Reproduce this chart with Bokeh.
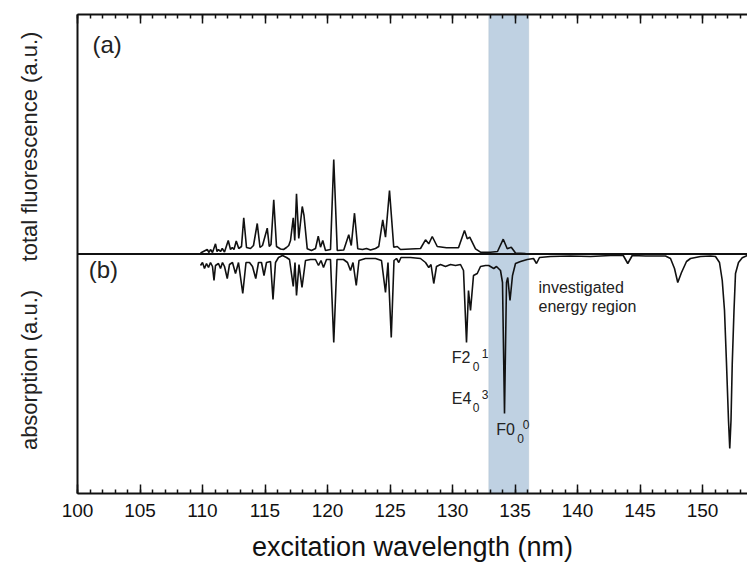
import math
from bokeh.plotting import figure
from bokeh.layouts import row
from bokeh.models import (Range1d, LinearAxis, SingleIntervalTicker, FixedTicker,
                          BoxAnnotation, Label, CustomJSTickFormatter)
from bokeh.core.properties import value
from bokeh.embed import file_html
from bokeh.resources import INLINE

# ---- data (x in nm, y in arbitrary units) ----
fl_nm = [109.84, 110.38, 110.52, 110.64, 110.80, 111.04, 111.16, 111.28, 111.44, 111.58,
         111.76, 112.06, 112.24, 112.38, 112.52, 112.70, 112.90, 113.12, 113.30, 113.52,
         113.84, 114.08, 114.38, 114.60, 114.80, 115.18, 115.34, 115.48, 115.70, 115.92,
         116.24, 116.48, 116.72, 116.90, 117.04, 117.26, 117.38, 117.52, 117.70, 117.98,
         118.12, 118.38, 118.72, 119.04, 119.26, 119.44, 119.62, 119.84, 120.24, 120.50,
         120.78, 121.30, 121.70, 121.90, 122.16, 122.42, 122.80, 123.12, 123.44, 123.84,
         124.10, 124.42, 124.64, 124.96, 125.30, 125.58, 125.84, 126.64, 127.44, 127.84,
         128.10, 128.38, 128.78, 129.52, 130.48, 130.96, 131.18, 131.38, 131.84, 132.24,
         133.04, 133.60, 134.06, 134.38, 134.70, 135.04, 135.84, 136.88]
fl_au = [1.0, 4.5, 1.5, 4.5, 1.5, 10.2, 2.5, 4.5, 2.5, 5.5,
         2.0, 13.5, 4.5, 6.5, 4.5, 13.0, 5.5, 7.5, 36.2, 6.5,
         5.5, 8.5, 30.5, 6.5, 8.5, 25.8, 7.5, 9.5, 54.2, 7.5,
         5.0, 4.5, 6.5, 8.5, 13.5, 36.2, 13.5, 60.2, 15.5, 47.5,
         38.5, 5.2, 3.5, 5.5, 17.8, 6.8, 13.5, 3.5, 4.5, 94.5,
         3.5, 4.0, 19.2, 8.5, 40.8, 5.2, 4.5, 5.5, 4.0, 5.5,
         7.5, 34.2, 16.8, 63.5, 6.8, 7.5, 4.5, 5.0, 5.5, 14.2,
         10.2, 17.5, 7.5, 6.2, 6.2, 23.5, 15.2, 16.8, 5.2, 1.8,
         1.8, 2.5, 14.8, 5.2, 6.8, 1.0, 0.5, 0.0]

ab_nm = [109.84, 110.00, 110.16, 110.32, 110.48, 110.64, 110.80, 110.92, 111.04, 111.28,
         111.44, 111.60, 111.76, 111.98, 112.16, 112.40, 112.64, 112.88, 113.22, 113.48,
         113.76, 114.00, 114.26, 114.48, 114.72, 114.92, 115.12, 115.44, 115.64, 115.84,
         116.08, 116.40, 116.72, 116.96, 117.26, 117.40, 117.52, 117.72, 117.96, 118.24,
         118.64, 119.04, 119.28, 119.48, 119.68, 119.92, 120.24, 120.50, 120.76, 121.28,
         121.60, 121.84, 122.04, 122.30, 122.52, 123.04, 123.84, 124.32, 124.64, 124.84,
         125.10, 125.32, 125.52, 125.70, 125.88, 126.64, 127.44, 127.84, 128.10, 128.28,
         128.50, 128.72, 129.04, 129.44, 129.84, 130.24, 130.64, 130.88, 131.12, 131.28,
         131.44, 131.68, 131.98, 132.24, 132.64, 132.90, 133.30, 133.52, 133.84, 134.00,
         134.16, 134.32, 134.42, 134.60, 134.80, 135.04, 135.44, 135.98, 136.48, 136.72,
         136.96, 137.84, 139.44, 141.04, 142.64, 143.66, 144.02, 144.38, 145.44, 147.04,
         147.44, 147.76, 148.02, 148.32, 148.72, 149.04, 149.84, 150.64, 151.04, 151.36,
         151.58, 151.76, 151.92, 152.08, 152.18, 152.28, 152.38, 152.52, 152.64, 152.88,
         153.18, 153.60]
ab_au = [-11.5, -8.5, -14.5, -9.5, -13.5, -8.5, -12.5, -26.5, -11.5, -9.5,
         -14.5, -8.5, -12.5, -24.5, -10.5, -8.5, -19.5, -8.5, -39.5, -8.5,
         -8.5, -12.5, -24.5, -8.5, -8.5, -21.5, -8.5, -7.5, -45.5, -8.5,
         -3.5, -1.5, -3.5, -5.5, -32.5, -8.5, -41.5, -10.5, -33.5, -6.5,
         -5.5, -5.5, -11.5, -6.5, -13.5, -5.5, -5.5, -88.5, -5.5, -5.5,
         -8.5, -16.5, -8.5, -31.5, -6.5, -4.5, -4.5, -6.5, -38.5, -8.5,
         -83.5, -6.5, -4.5, -8.5, -3.5, -3.5, -4.5, -8.5, -13.5, -10.5,
         -29.5, -12.5, -10.5, -12.5, -10.5, -11.5, -10.5, -16.5, -88.5, -36.5,
         -56.5, -21.5, -19.5, -12.5, -11.5, -11.5, -14.5, -12.5, -16.5, -28.5,
         -159.5, -28.5, -23.5, -46.5, -21.5, -9.5, -7.5, -5.5, -4.5, -9.5,
         -3.5, -2.5, -2.0, -2.5, -1.5, -1.5, -9.5, -1.5, -2.0, -2.0,
         -4.5, -14.5, -28.5, -18.5, -7.5, -4.5, -2.5, -2.0, -2.5, -8.5,
         -26.5, -56.5, -109.5, -166.5, -194.5, -166.5, -109.5, -56.5, -19.5, -8.5,
         -3.8, -1.5]

zero_nm = [100.0, 153.6]
zero_au = [0.0, 0.0]

band_nm = [132.9, 136.1]
y_titles = ["total fluorescence (a.u.)", "absorption (a.u.)"]
y_title_pos = [107.5, -116.0]

FONT = "Liberation Sans"
INK = "#111111"
TXT = "#222222"
Y_RANGE = (-239.5, 239.5)

# ---- left strip holding the two vertical axis titles ----
side = figure(width=60, height=568, x_range=Range1d(0, 60), y_range=Range1d(*Y_RANGE),
              output_backend="svg", toolbar_location=None,
              min_border_left=0, min_border_right=0, min_border_top=14, min_border_bottom=75)
side.axis.visible = False
side.grid.visible = False
side.outline_line_color = None
side.text(x=[29, 29], y=y_title_pos, text=y_titles, angle=math.pi / 2,
          text_align="center", text_baseline="middle", text_font=value(FONT),
          text_font_size="22px", text_color=TXT)

# ---- main plot ----
p = figure(width=687, height=568, x_range=Range1d(100, 153.6), y_range=Range1d(*Y_RANGE),
           output_backend="svg", toolbar_location=None,
           min_border_left=17, min_border_right=0, min_border_top=14, min_border_bottom=75)
p.grid.visible = False
p.outline_line_color = None
p.background_fill_color = "white"
p.border_fill_color = "white"

band = BoxAnnotation(left=band_nm[0], right=band_nm[1], fill_color="#bfd1e2", fill_alpha=1.0,
                     line_color="#a7b6c4", line_width=1, level="underlay")
p.add_layout(band)

p.line(zero_nm, zero_au, line_color=INK, line_width=2.2)
p.line(fl_nm, fl_au, line_color=INK, line_width=1.6)
p.line(ab_nm, ab_au, line_color=INK, line_width=1.6)

def style_x(ax, labels=True):
    ax.ticker = SingleIntervalTicker(interval=5, num_minor_ticks=5)
    ax.major_tick_in = 9
    ax.major_tick_out = 0
    ax.minor_tick_in = 4
    ax.minor_tick_out = 0
    ax.axis_line_width = 2
    ax.axis_line_color = INK
    ax.major_tick_line_width = 1.5
    ax.minor_tick_line_width = 1.5
    ax.major_tick_line_color = INK
    ax.minor_tick_line_color = INK
    if labels:
        ax.major_label_text_font = FONT
        ax.major_label_text_font_size = "19px"
        ax.major_label_text_color = INK
        ax.major_label_standoff = 10
    else:
        ax.formatter = CustomJSTickFormatter(code="return ''")
        ax.major_label_standoff = 0

xa = p.xaxis[0]
style_x(xa)
xa.axis_label = "excitation wavelength (nm)"
xa.axis_label_text_font = FONT
xa.axis_label_text_font_size = "27px"
xa.axis_label_text_font_style = "normal"
xa.axis_label_text_color = INK
xa.axis_label_standoff = 12

top = LinearAxis()
style_x(top, labels=False)
p.add_layout(top, "above")

ya = p.yaxis[0]
ya.ticker = FixedTicker(ticks=[])
ya.major_tick_in = 0
ya.major_tick_out = 0
ya.minor_tick_in = 0
ya.minor_tick_out = 0
ya.axis_line_width = 2
ya.axis_line_color = INK

def lab(text, x, y, size):
    p.add_layout(Label(x=x, y=y, text=text, text_font=FONT, text_font_size=size,
                       text_color=TXT))

lab("(a)", 101.2, 196.5, "24px")
lab("(b)", 100.9, -28.5, "24px")

lab("F2", 129.94, -111.5, "16px")
lab("0", 131.62, -117.0, "12px")
lab("1", 132.34, -104.0, "12px")
lab("E4", 129.94, -152.5, "16px")
lab("0", 131.62, -158.0, "12px")
lab("3", 132.34, -145.0, "12px")
lab("F0", 133.50, -183.5, "16px")
lab("0", 135.18, -189.0, "12px")
lab("0", 135.62, -175.0, "12px")

lab("investigated", 136.88, -42.0, "16px")
lab("energy region", 136.88, -60.5, "16px")

open("out.html", "w").write(file_html(row(side, p), INLINE))
